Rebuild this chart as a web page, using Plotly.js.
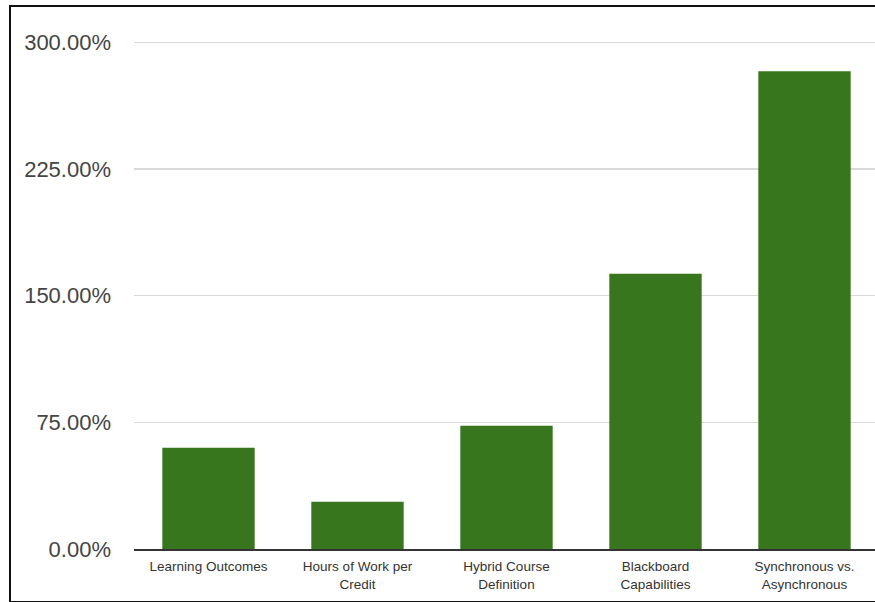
<!DOCTYPE html>
<html>
<head>
<meta charset="utf-8">
<script src="https://cdn.plot.ly/plotly-3.0.1.min.js"></script>
<style>
  html, body { margin: 0; padding: 0; overflow: hidden; background: #fff; }
  #wrap { position: relative; width: 875px; height: 602px; overflow: hidden; }
  #chart { position: absolute; left: 0; top: 0; }
  #frame { position: absolute; left: 9px; top: 5px; width: 880px; height: 594px;
           border-left: 2px solid #111; border-top: 2px solid #111; border-bottom: 2px solid #111;
           pointer-events: none; }
</style>
</head>
<body>
<div id="wrap">
  <div id="chart"></div>
  <div id="frame"></div>
</div>
<script>
const categories = [
  "Learning Outcomes",
  "Hours of Work per<br>Credit",
  "Hybrid Course<br>Definition",
  "Blackboard<br>Capabilities",
  "Synchronous vs.<br>Asynchronous"
];
const values = [60, 28, 73, 163, 283];
const yTicks = [0, 75, 150, 225, 300];

const trace = {
  type: "bar",
  x: categories,
  y: values,
  marker: { color: "#38761d", line: { width: 0 } },
  hoverinfo: "none"
};

const layout = {
  width: 879,
  height: 602,
  margin: { l: 134, r: 0, t: 34, b: 53 },
  paper_bgcolor: "#ffffff",
  plot_bgcolor: "#ffffff",
  font: { family: "Liberation Sans, Arial, Helvetica, sans-serif" },
  bargap: 0.38,
  showlegend: false,
  xaxis: {
    type: "category",
    showgrid: false,
    showline: true,
    linecolor: "#333333",
    linewidth: 2,
    zeroline: false,
    ticks: "",
    ticklabelstandoff: 4,
    tickfont: { size: 13.5, color: "#333333" }
  },
  yaxis: {
    range: [0, 305],
    tickvals: yTicks,
    ticktext: yTicks.map(v => v.toFixed(2) + "%"),
    showgrid: true,
    gridcolor: "#d9d9d9",
    gridwidth: 1.5,
    zeroline: false,
    showline: false,
    ticks: "",
    ticklabelstandoff: 22,
    tickfont: { size: 22, color: "#444444" }
  }
};

Plotly.newPlot("chart", [trace], layout, { displayModeBar: false, staticPlot: true });
</script>
</body>
</html>
